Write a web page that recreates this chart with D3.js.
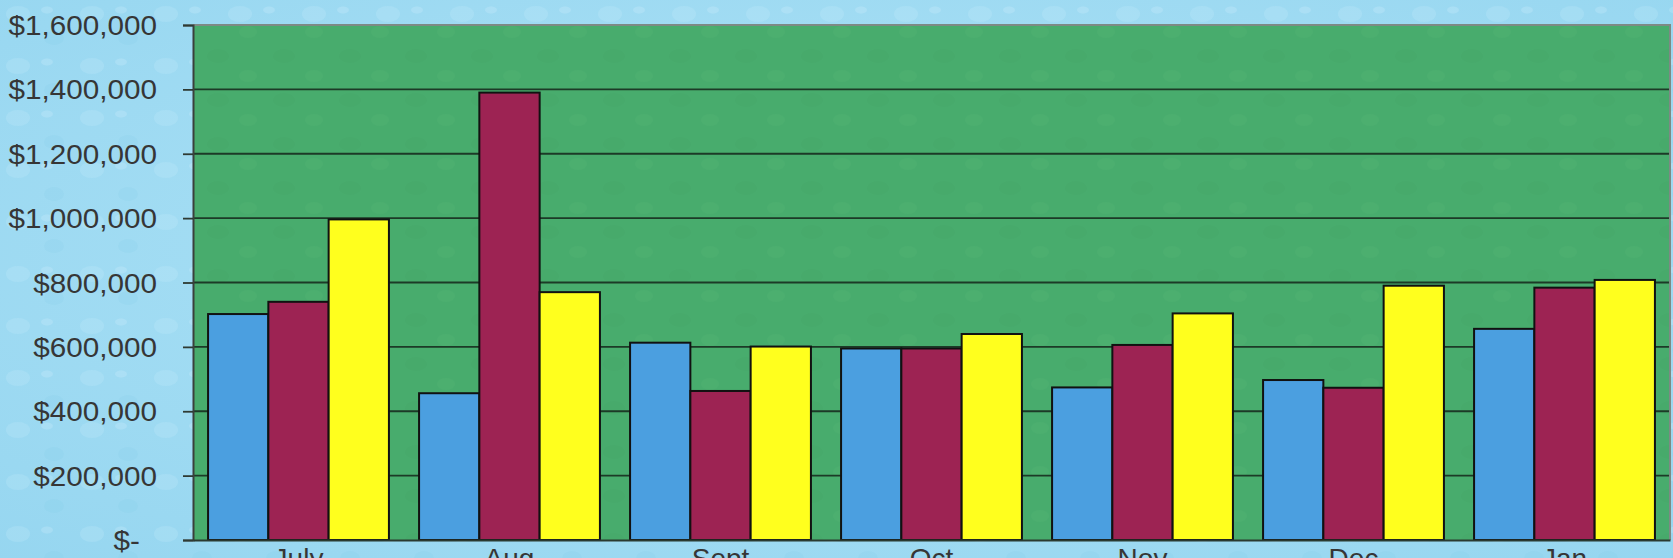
<!DOCTYPE html>
<html>
<head>
<meta charset="utf-8">
<script src="https://cdn.jsdelivr.net/npm/d3@7"></script>
<style>
html,body{margin:0;padding:0;overflow:hidden;}
svg{display:block;}
</style>
</head>
<body>
<svg id="chart" width="1673" height="558"></svg>
<script>
const months = ["July","Aug","Sept","Oct","Nov","Dec","Jan"];
const seriesNames = ["Series A","Series B","Series C"];
const seriesA = [702000, 456000, 613000, 595000, 474000, 497000, 656000];
const seriesB = [740000, 1390000, 463000, 595000, 606000, 473000, 784000];
const seriesC = [996000, 770000, 601000, 640000, 704000, 790000, 808000];
const yTicks = [0, 200000, 400000, 600000, 800000, 1000000, 1200000, 1400000, 1600000];
const colors = ["#4b9fe0", "#9d2353", "#ffff1e"];

const W = 1673, H = 558;
const m = {left: 193, right: 3, top: 25, bottom: 18};
const svg = d3.select("#chart");
const FONT = "'Liberation Sans', Arial, sans-serif";

// background (watery light blue)
const defs = svg.append("defs");
const bg = defs.append("radialGradient").attr("id","bgGrad").attr("cx","50%").attr("cy","45%").attr("r","75%");
bg.append("stop").attr("offset","0%").attr("stop-color","#ade2f6");
bg.append("stop").attr("offset","100%").attr("stop-color","#96d6f0");
svg.append("rect").attr("width",W).attr("height",H).attr("fill","url(#bgGrad)");

const pat = defs.append("pattern").attr("id","drops").attr("width",74).attr("height",52).attr("patternUnits","userSpaceOnUse");
pat.append("ellipse").attr("cx",18).attr("cy",14).attr("rx",12).attr("ry",8).attr("fill","#c9eefb").attr("opacity",0.22);
pat.append("ellipse").attr("cx",54).attr("cy",38).attr("rx",10).attr("ry",7).attr("fill","#7cc6e6").attr("opacity",0.14);
pat.append("ellipse").attr("cx",47).attr("cy",10).attr("rx",6).attr("ry",3.5).attr("fill","#e0f6fe").attr("opacity",0.2);
svg.append("rect").attr("width",W).attr("height",H).attr("fill","url(#drops)");

const x0 = d3.scaleBand().domain(months).range([m.left, W - m.right]).paddingInner(0).paddingOuter(0);
const x1 = d3.scaleBand().domain(seriesNames).range([0, x0.bandwidth()]).paddingInner(0).paddingOuter(0.25);
const y = d3.scaleLinear().domain([0, 1600000]).range([H - m.bottom, m.top]);

// plot area
svg.append("rect")
  .attr("x", m.left).attr("y", m.top)
  .attr("width", W - m.right - m.left).attr("height", y(0) - m.top)
  .attr("fill", "#48ac6d");
const gpat = defs.append("pattern").attr("id","gdrops").attr("width",66).attr("height",44).attr("patternUnits","userSpaceOnUse");
gpat.append("ellipse").attr("cx",20).attr("cy",12).attr("rx",11).attr("ry",7).attr("fill","#3f9f63").attr("opacity",0.2);
gpat.append("ellipse").attr("cx",50).attr("cy",32).attr("rx",9).attr("ry",6).attr("fill","#58b87a").attr("opacity",0.2);
svg.append("rect")
  .attr("x", m.left).attr("y", m.top)
  .attr("width", W - m.right - m.left).attr("height", y(0) - m.top)
  .attr("fill", "url(#gdrops)");

// gridlines
svg.append("g").selectAll("line").data(yTicks.filter(d => d > 0 && d < 1600000)).join("line")
  .attr("x1", m.left).attr("x2", W - m.right)
  .attr("y1", d => y(d)).attr("y2", d => y(d))
  .attr("stroke", "#1c3a27").attr("stroke-width", 1.8);

// border top/right
svg.append("path")
  .attr("d", `M${m.left},${m.top}H${W - m.right}V${y(0)}`)
  .attr("fill","none").attr("stroke","#7d8a84").attr("stroke-width",2);

// bars
const series = [seriesA, seriesB, seriesC];
const groups = svg.append("g").selectAll("g").data(months).join("g")
  .attr("transform", d => `translate(${x0(d)},0)`);
groups.selectAll("rect").data((d, i) => series.map((s, k) => ({name: seriesNames[k], value: s[i], k})))
  .join("rect")
  .attr("x", d => x1(d.name))
  .attr("width", x1.bandwidth())
  .attr("y", d => y(d.value))
  .attr("height", d => y(0) - y(d.value))
  .attr("fill", d => colors[d.k])
  .attr("stroke", "#111")
  .attr("stroke-width", 2);

// y axis (ticks only) + labels
const yAxis = svg.append("g").attr("transform", `translate(${m.left},0)`)
  .call(d3.axisLeft(y).tickValues(yTicks).tickFormat("").tickSize(10));
yAxis.select(".domain").attr("stroke", "#3a3f3c").attr("stroke-width", 2);
yAxis.selectAll(".tick line").attr("stroke", "#2e3a33").attr("stroke-width", 1.8);

const fmt = d => d === 0 ? "$-" : "$" + d3.format(",")(d);
svg.append("g").selectAll("g").data(yTicks).join("g")
  .attr("transform", d => `translate(${d === 0 ? 140 : 157},${y(d)}) scale(1.06,1)`)
  .append("text")
  .attr("text-anchor", "end")
  .attr("dy", "0.36em")
  .attr("font-family", FONT)
  .attr("font-size", 28)
  .attr("fill", "#363636")
  .text(fmt);

// x axis
const xAxis = svg.append("g").attr("transform", `translate(0,${y(0)})`)
  .call(d3.axisBottom(x0).tickSize(0).tickPadding(8));
xAxis.select(".domain").attr("stroke", "#2a3a30").attr("stroke-width", 2);
xAxis.selectAll(".tick text")
  .attr("font-family", FONT)
  .attr("font-size", 28)
  .attr("fill", "#363636")
  .attr("dy", "0.71em");
</script>
</body>
</html>
